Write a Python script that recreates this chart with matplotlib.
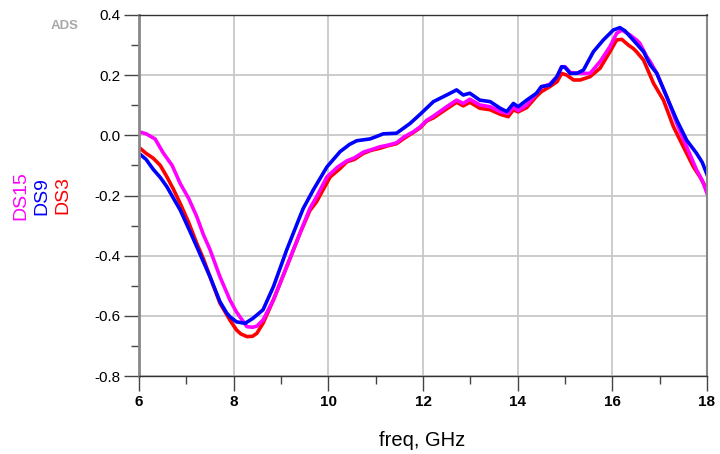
import matplotlib
matplotlib.use("Agg")
import matplotlib.pyplot as plt
from matplotlib.ticker import MultipleLocator

plt.rcParams["font.family"] = ["Liberation Sans", "DejaVu Sans"]

# DS15 (magenta)
f_ds15 = [6.0, 6.15, 6.34, 6.51, 6.70, 6.87, 7.05, 7.22, 7.36, 7.50, 7.71, 7.92,
          8.05, 8.13, 8.28, 8.40, 8.49, 8.62, 8.84, 9.12, 9.40, 9.61, 9.75, 9.97,
          10.2, 10.39, 10.55, 10.74, 10.9, 11.09, 11.25, 11.44, 11.6, 11.80, 11.94,
          12.08, 12.22, 12.50, 12.71, 12.85, 12.99, 13.20, 13.42, 13.63, 13.80,
          13.91, 14.01, 14.19, 14.40, 14.50, 14.68, 14.83, 14.93, 15.0, 15.11,
          15.32, 15.53, 15.74, 15.95, 16.09, 16.20, 16.37, 16.51, 16.58, 16.73,
          16.80, 16.94, 17.15, 17.36, 17.57, 17.78, 17.90, 18.0]
v_ds15 = [0.012, 0.005, -0.012, -0.058, -0.10, -0.16, -0.21, -0.27, -0.33, -0.38,
          -0.47, -0.547, -0.585, -0.603, -0.636, -0.638, -0.634, -0.614, -0.547,
          -0.437, -0.326, -0.243, -0.205, -0.138, -0.105, -0.085, -0.075, -0.056,
          -0.048, -0.038, -0.033, -0.025, -0.005, 0.012, 0.028, 0.05, 0.064, 0.095,
          0.117, 0.106, 0.12, 0.101, 0.095, 0.079, 0.073, 0.095, 0.082, 0.101, 0.14,
          0.16, 0.17, 0.195, 0.228, 0.228, 0.209, 0.206, 0.206, 0.245, 0.295, 0.339,
          0.35, 0.334, 0.317, 0.306, 0.261, 0.245, 0.206, 0.128, 0.04, -0.038,
          -0.115, -0.15, -0.193]

# DS9 (blue)
f_ds9 = [6.0, 6.15, 6.30, 6.45, 6.59, 6.73, 6.87, 7.05, 7.22, 7.36, 7.50, 7.71,
         7.85, 7.92, 8.06, 8.24, 8.41, 8.62, 8.84, 9.12, 9.40, 9.47, 9.68, 9.97,
         10.25, 10.45, 10.60, 10.88, 11.0, 11.16, 11.44, 11.6, 11.73, 11.94, 12.0,
         12.22, 12.50, 12.71, 12.85, 12.99, 13.20, 13.42, 13.63, 13.77, 13.91,
         14.01, 14.19, 14.40, 14.50, 14.68, 14.83, 14.93, 15.0, 15.11, 15.25,
         15.39, 15.60, 15.81, 16.02, 16.16, 16.27, 16.44, 16.66, 16.80, 16.94,
         17.15, 17.36, 17.57, 17.78, 17.90, 18.0]
v_ds9 = [-0.06, -0.08, -0.113, -0.14, -0.171, -0.21, -0.248, -0.31, -0.37, -0.42,
         -0.47, -0.553, -0.59, -0.603, -0.62, -0.625, -0.608, -0.58, -0.503, -0.381,
         -0.27, -0.243, -0.182, -0.105, -0.054, -0.03, -0.018, -0.012, -0.005, 0.005,
         0.007, 0.025, 0.04, 0.07, 0.079, 0.112, 0.134, 0.151, 0.134, 0.14, 0.117,
         0.112, 0.09, 0.079, 0.106, 0.095, 0.117, 0.14, 0.162, 0.167, 0.195, 0.228,
         0.226, 0.206, 0.206, 0.217, 0.278, 0.317, 0.35, 0.358, 0.347, 0.317, 0.278,
         0.234, 0.206, 0.128, 0.051, -0.016, -0.06, -0.09, -0.13]

# DS3 (red)
f_ds3 = [6.0, 6.15, 6.30, 6.45, 6.59, 6.73, 6.87, 7.05, 7.22, 7.36, 7.50, 7.71,
         7.85, 7.92, 8.06, 8.15, 8.28, 8.40, 8.49, 8.62, 8.84, 9.12, 9.40, 9.61,
         9.75, 10.04, 10.25, 10.39, 10.55, 10.74, 10.9, 11.09, 11.25, 11.44, 11.6,
         11.80, 11.94, 12.08, 12.22, 12.50, 12.71, 12.85, 12.99, 13.20, 13.42,
         13.63, 13.80, 13.91, 14.01, 14.19, 14.40, 14.50, 14.68, 14.83, 14.93,
         15.04, 15.18, 15.32, 15.53, 15.74, 15.95, 16.09, 16.20, 16.34, 16.44,
         16.51, 16.66, 16.87, 17.08, 17.29, 17.50, 17.71, 17.85, 18.0]
v_ds3 = [-0.04, -0.06, -0.076, -0.10, -0.138, -0.18, -0.226, -0.29, -0.359, -0.41,
         -0.47, -0.558, -0.595, -0.614, -0.647, -0.66, -0.669, -0.668, -0.658,
         -0.625, -0.547, -0.437, -0.326, -0.25, -0.221, -0.138, -0.11, -0.088,
         -0.08, -0.06, -0.05, -0.043, -0.035, -0.028, -0.01, 0.01, 0.025, 0.048,
         0.058, 0.088, 0.11, 0.098, 0.11, 0.09, 0.085, 0.07, 0.062, 0.085, 0.078,
         0.092, 0.13, 0.145, 0.162, 0.178, 0.206, 0.2, 0.184, 0.184, 0.195, 0.223,
         0.278, 0.317, 0.319, 0.3, 0.289, 0.278, 0.25, 0.173, 0.117, 0.029, -0.038,
         -0.104, -0.138, -0.18]

fig = plt.figure(figsize=(7.2, 4.54), dpi=100)
ax = fig.add_axes([139 / 720, 1 - 376 / 454, 568 / 720, 361 / 454])

# draw order: red, magenta, blue on top where they overlap
ax.plot(f_ds3, v_ds3, color="#ff0000", lw=2.6)
ax.plot(f_ds15, v_ds15, color="#ff00ff", lw=2.6)
ax.plot(f_ds9, v_ds9, color="#0000ff", lw=2.6)

ax.set_xlim(6, 18)
ax.set_ylim(-0.8, 0.4)
ax.xaxis.set_major_locator(MultipleLocator(2))
ax.xaxis.set_minor_locator(MultipleLocator(1))
ax.yaxis.set_major_locator(MultipleLocator(0.2))
ax.yaxis.set_minor_locator(MultipleLocator(0.1))
ax.yaxis.set_major_formatter(plt.FuncFormatter(lambda v, p: f"{v:.1f}"))

ax.grid(True, which="major", color="#c8c8c8", lw=1.3)
ax.set_axisbelow(True)

ax.tick_params(which="major", direction="out", length=11, width=1, color="#444444",
               labelsize=11, pad=2)
ax.tick_params(which="minor", direction="out", length=5.5, width=1, color="#444444")
ax.tick_params(axis="x", which="major", pad=3)
for lab in ax.get_xticklabels():
    lab.set_fontweight("bold")

ax.spines["left"].set_color("#888888")
ax.spines["left"].set_linewidth(2)
ax.spines["right"].set_color("#888888")
ax.spines["right"].set_linewidth(1.5)
ax.spines["top"].set_color("#333333")
ax.spines["top"].set_linewidth(1)
ax.spines["bottom"].set_color("#333333")
ax.spines["bottom"].set_linewidth(1)

fig.text(422 / 720, 1 - 440 / 454, "freq, GHz", fontsize=14.5, ha="center", va="center")
fig.text(65 / 720, 1 - 26 / 454, "ADS", fontsize=9.5, fontweight="bold",
         color="#a8a8a8", ha="center", va="center")

fig.text(21 / 720, 1 - 220 / 454, "DS15", color="#ff00ff", fontsize=14, rotation=90,
         ha="center", va="bottom")
fig.text(42 / 720, 1 - 215 / 454, "DS9", color="#0000ff", fontsize=14, rotation=90,
         ha="center", va="bottom")
fig.text(63 / 720, 1 - 214 / 454, "DS3", color="#ff0000", fontsize=14, rotation=90,
         ha="center", va="bottom")

fig.savefig("out.png", dpi=100)
